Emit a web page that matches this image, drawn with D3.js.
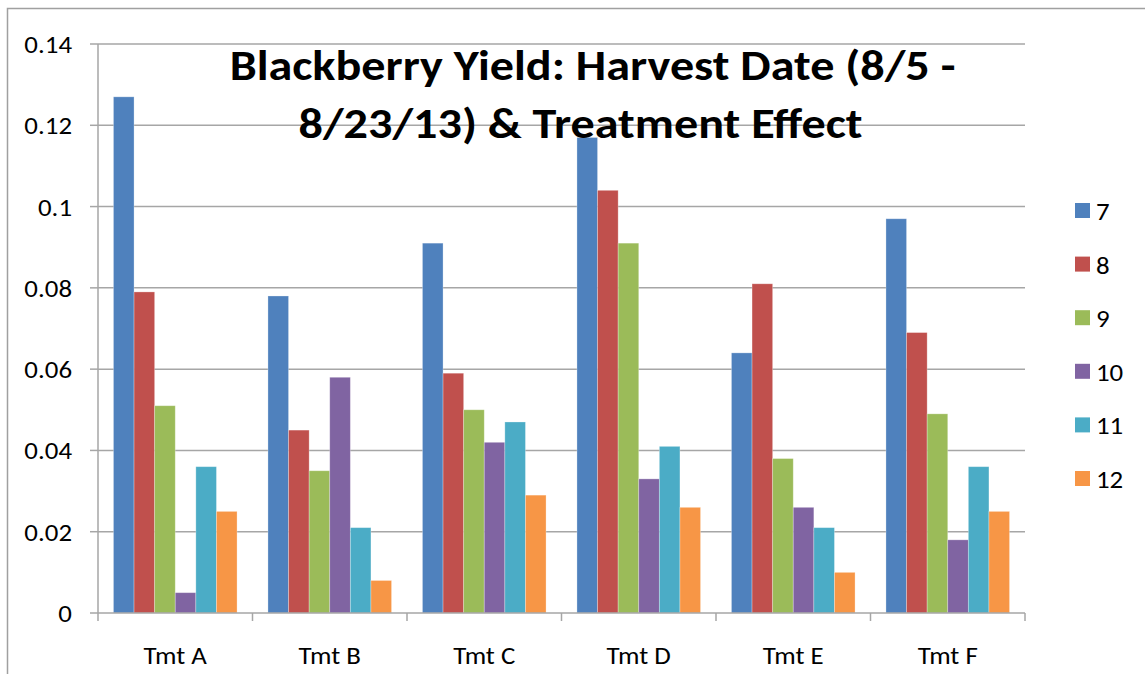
<!DOCTYPE html>
<html><head><meta charset="utf-8">
<script src="https://cdn.jsdelivr.net/npm/d3@7/dist/d3.min.js"></script>
<style>body{margin:0;background:#fff;} svg{display:block;}</style>
</head><body>
<script>
const categories = ["Tmt A","Tmt B","Tmt C","Tmt D","Tmt E","Tmt F"];
const seriesNames = ["7","8","9","10","11","12"];
const s7  = [0.127,0.078,0.091,0.117,0.064,0.097];
const s8  = [0.079,0.045,0.059,0.104,0.081,0.069];
const s9  = [0.051,0.035,0.050,0.091,0.038,0.049];
const s10 = [0.005,0.058,0.042,0.033,0.026,0.018];
const s11 = [0.036,0.021,0.047,0.041,0.021,0.036];
const s12 = [0.025,0.008,0.029,0.026,0.010,0.025];
const yTicks = [0,0.02,0.04,0.06,0.08,0.1,0.12,0.14];
const titleLines = ["Blackberry Yield: Harvest Date (8/5 -","8/23/13) & Treatment Effect"];
const colors = ["#4F81BD","#C0504D","#9BBB59","#8064A2","#4BACC6","#F79646"];
const series = [s7,s8,s9,s10,s11,s12];

(function(){
const W=1145,H=674, SX=1.12;
const svg=d3.select("body").append("svg").attr("width",W).attr("height",H);
const font="Carlito, Calibri, sans-serif";
const txt=(g,x,y,s,size,anchor,bold)=>g.append("text")
  .attr("transform",`translate(${x},${y}) scale(${SX},1)`)
  .attr("text-anchor",anchor).attr("font-family",font).attr("font-size",size)
  .attr("font-weight",bold?"bold":"normal").attr("fill","#000").text(s);

svg.append("path").attr("d","M7.5,674 L7.5,8.5 L1145,8.5").attr("fill","none").attr("stroke","#a0a0a0").attr("stroke-width",1.5);

const pL=98,pR=1025,pT=44,pB=613;
const x=d3.scaleBand().domain(categories).range([pL,pR]);
const bw=x.bandwidth()/7.5;
const y=d3.scaleLinear().domain([0,0.14]).range([pB,pT]);
const grey="#a6a6a6";

svg.append("g").selectAll("line").data(yTicks.slice(1)).join("line")
  .attr("x1",pL).attr("x2",pR).attr("y1",d=>y(d)).attr("y2",d=>y(d))
  .attr("stroke",grey).attr("stroke-width",1.5);

categories.forEach((c,ci)=>{
  series.forEach((s,si)=>{
    svg.append("rect")
      .attr("x",x(c)+bw*0.75+si*bw)
      .attr("y",y(s[ci]))
      .attr("width",bw)
      .attr("height",y(0)-y(s[ci]))
      .attr("fill",colors[si])
      .attr("stroke","rgba(255,255,255,0.35)").attr("stroke-width",0.8);
  });
});

// y axis
const gy=svg.append("g");
gy.append("line").attr("x1",pL).attr("x2",pL).attr("y1",pT).attr("y2",pB).attr("stroke",grey).attr("stroke-width",1.5);
yTicks.forEach(v=>{
  gy.append("line").attr("x1",pL-8).attr("x2",pL).attr("y1",y(v)).attr("y2",y(v)).attr("stroke",grey).attr("stroke-width",1.5);
  txt(gy,72,y(v)+9,v===0?"0":String(+v.toFixed(2)),24,"end");
});

// x axis
const gx=svg.append("g");
gx.append("line").attr("x1",pL).attr("x2",pR).attr("y1",pB).attr("y2",pB).attr("stroke",grey).attr("stroke-width",1.5);
categories.map(c=>x(c)).concat([pR]).forEach(d=>{
  gx.append("line").attr("x1",d).attr("x2",d).attr("y1",pB).attr("y2",pB+8).attr("stroke",grey).attr("stroke-width",1.5);
});
categories.forEach(c=>txt(gx,x(c)+x.bandwidth()/2,664,c,24,"middle"));

// title
txt(svg,592.5,80,titleLines[0],43,"middle",true);
txt(svg,580.5,138,titleLines[1],43,"middle",true);

// legend
const lg=svg.append("g");
seriesNames.forEach((n,i)=>{
  const yy=210.5+i*53.6;
  lg.append("rect").attr("x",1075).attr("y",yy-7.5).attr("width",15).attr("height",15).attr("fill",colors[i]);
  txt(lg,1096,yy+9.5,n,24,"start");
});
})();
</script>
</body></html>
